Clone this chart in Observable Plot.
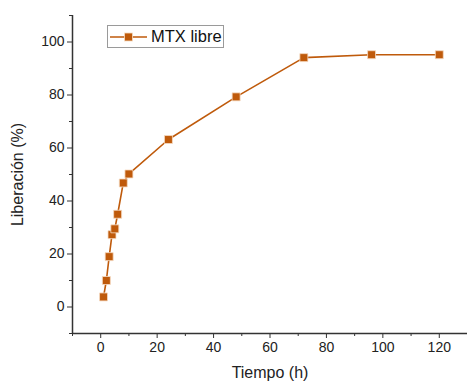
<!DOCTYPE html>
<html>
<head>
<meta charset="utf-8">
<script src="https://cdn.jsdelivr.net/npm/d3@7"></script>
<script src="https://cdn.jsdelivr.net/npm/@observablehq/plot@0.6"></script>
<style>
  html, body { margin: 0; padding: 0; background: #fff; }
  #wrap { position: relative; width: 467px; height: 382px; font-family: "Liberation Sans", Arial, sans-serif; }
  #legend {
    position: absolute; left: 107px; top: 25px; width: 117px; height: 23px;
    border: 1px solid #9a9a9a; box-sizing: border-box; background: #fff;
  }
  #legend svg { position: absolute; left: 0; top: 0; }
  #legend span { position: absolute; left: 43px; top: 1px; font-size: 16.5px; color: #111; }
</style>
</head>
<body>
<div id="wrap">
  <div id="legend">
    <svg width="40" height="22"><line x1="2" x2="39" y1="11" y2="11" stroke="#bf5a0b" stroke-width="1.6"/><rect x="16.5" y="7" width="8" height="8" fill="#bf5a0b" stroke="#f6dcc4" stroke-width="0.8"/></svg>
    <span>MTX libre</span>
  </div>
</div>
<script>
// Release profile of free methotrexate
const tiempo = [1, 2, 3, 4, 5, 6, 8, 10, 24, 48, 72, 96, 120];
const liberacion = [3.8, 10, 19, 27.3, 29.5, 35, 46.8, 50.2, 63.2, 79.3, 94.1, 95.2, 95.2];
const xMajor = [0, 20, 40, 60, 80, 100, 120];
const xMinor = [-10, 10, 30, 50, 70, 90, 110, 130];
const yMajor = [0, 20, 40, 60, 80, 100];
const yMinor = [-10, 10, 30, 50, 70, 90, 110];

const color = "#bf5a0b";
const data = tiempo.map((t, i) => ({t, v: liberacion[i]}));

const chart = Plot.plot({
  width: 467,
  height: 382,
  marginLeft: 72,
  marginRight: 0,
  marginTop: 15,
  marginBottom: 49,
  style: {fontFamily: "Liberation Sans, Arial, sans-serif", fontSize: "14px", color: "#222", background: "transparent"},
  x: {domain: [-10, 130]},
  y: {domain: [-10, 110]},
  marks: [
    Plot.axisX(xMinor, {tickSize: 3, text: null, label: null, stroke: "#333", strokeWidth: 1}),
    Plot.axisX(xMajor, {tickSize: 5, tickPadding: 4, label: "Tiempo (h)", labelAnchor: "center", labelArrow: "none", labelOffset: 44, stroke: "#333", strokeWidth: 1, fontSize: 14}),
    Plot.axisY(yMinor, {tickSize: 3, text: null, label: null, stroke: "#333", strokeWidth: 1}),
    Plot.axisY(yMajor, {tickSize: 5, tickPadding: 3, label: "Liberación (%)", labelAnchor: "center", labelArrow: "none", labelOffset: 61, stroke: "#333", strokeWidth: 1, fontSize: 14}),
    Plot.ruleX([-10], {stroke: "#333", strokeWidth: 1.5}),
    Plot.ruleY([-10], {stroke: "#333", strokeWidth: 1.5}),
    Plot.line(data, {x: "t", y: "v", stroke: color, strokeWidth: 1.6}),
    Plot.dot(data, {x: "t", y: "v", symbol: "square", r: 4.5, fill: color, stroke: "#f6dcc4", strokeWidth: 0.8})
  ]
});
document.getElementById("wrap").prepend(chart);
chart.style.position = "absolute";
chart.style.left = "0";
chart.style.top = "0";
// axis titles a little larger than tick labels
chart.querySelectorAll("g[aria-label='x-axis label'] text, g[aria-label='y-axis label'] text").forEach(t => t.setAttribute("font-size", "16"));
</script>
</body>
</html>
